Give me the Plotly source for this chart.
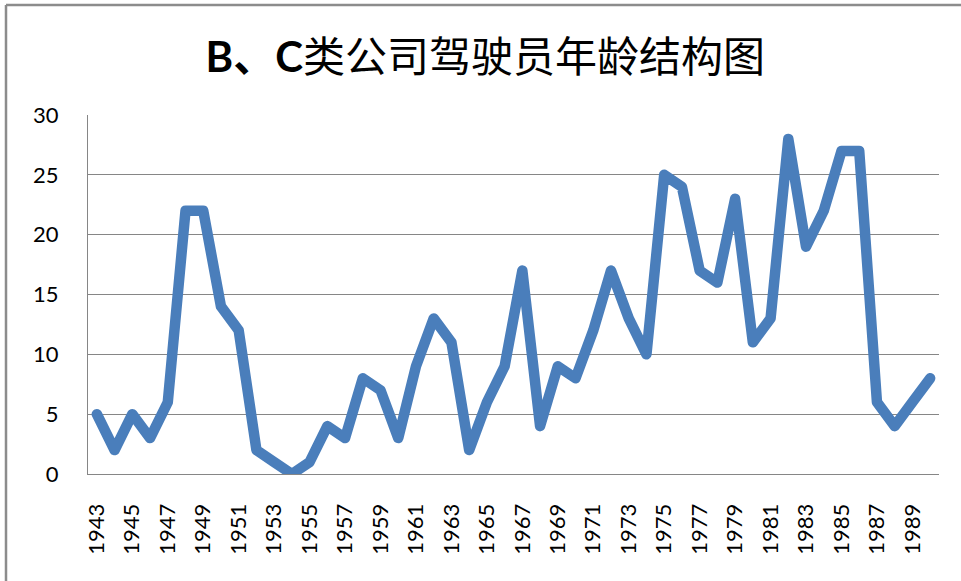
import plotly.graph_objects as go

years = list(range(1943, 1991))
counts = [5, 2, 5, 3, 6, 22, 22, 14, 12, 2,
          1, 0, 1, 4, 3, 8, 7, 3, 9, 13,
          11, 2, 6, 9, 17, 4, 9, 8, 12, 17,
          13, 10, 25, 24, 17, 16, 23, 11, 13, 28,
          19, 22, 27, 27, 6, 4, 6, 8]
tick_years = list(range(1943, 1990, 2))
y_ticks = [0, 5, 10, 15, 20, 25, 30]
title_bold = "B、C"
title_rest = "类公司驾驶员年龄结构图"

fig = go.Figure()
fig.add_trace(go.Scatter(
    x=years, y=counts, mode="lines",
    line=dict(color="#4A7EBB", width=10.5),
    hoverinfo="skip", showlegend=False,
))

fig.update_layout(
    width=961, height=581,
    margin=dict(l=88, r=22, t=115, b=107),
    paper_bgcolor="white", plot_bgcolor="white",
    title=dict(
        text=f"<b>{title_bold}</b>{title_rest}",
        x=0.505, xanchor="center", y=0.902, yanchor="middle",
        font=dict(family="Lato, 'Noto Sans CJK SC', sans-serif", size=42, color="black"),
    ),
    font=dict(family="Lato, 'Noto Sans CJK SC', sans-serif", color="black"),
    xaxis=dict(
        range=[1942.5, 1990.5],
        tickmode="array", tickvals=tick_years, ticktext=[str(v) for v in tick_years],
        tickangle=-90, tickfont=dict(size=22, color="black"),
        showgrid=False, zeroline=False,
        showline=True, linecolor="#868686", linewidth=1,
        ticks="", ticklabelstandoff=20,
    ),
    yaxis=dict(
        range=[0, 30], tickmode="array", tickvals=y_ticks,
        tickfont=dict(size=22, color="black"),
        showgrid=True, gridcolor="#868686", gridwidth=1,
        zeroline=False, showline=True, linecolor="#868686", linewidth=1,
        ticks="", ticklabelstandoff=24,
    ),
)

# Outer chart frame (top and left edges visible)
top_y = (581 - 107 - 5) / 359
left_x = -82 / 851
fig.add_shape(type="line", xref="paper", yref="paper",
              x0=left_x, x1=1.1, y0=top_y, y1=top_y,
              line=dict(color="#8c8c8c", width=2.5))
fig.add_shape(type="line", xref="paper", yref="paper",
              x0=left_x, x1=left_x, y0=-0.4, y1=top_y,
              line=dict(color="#8c8c8c", width=2.5))

post = """
document.body.style.margin='0';
document.body.style.overflow='hidden';
document.querySelectorAll('.scatterlayer path.js-line').forEach(function(p){
  p.style.strokeLinejoin='round'; p.style.strokeLinecap='round';
});
"""
fig.write_html("out.html", post_script=post, config={"displayModeBar": False})
